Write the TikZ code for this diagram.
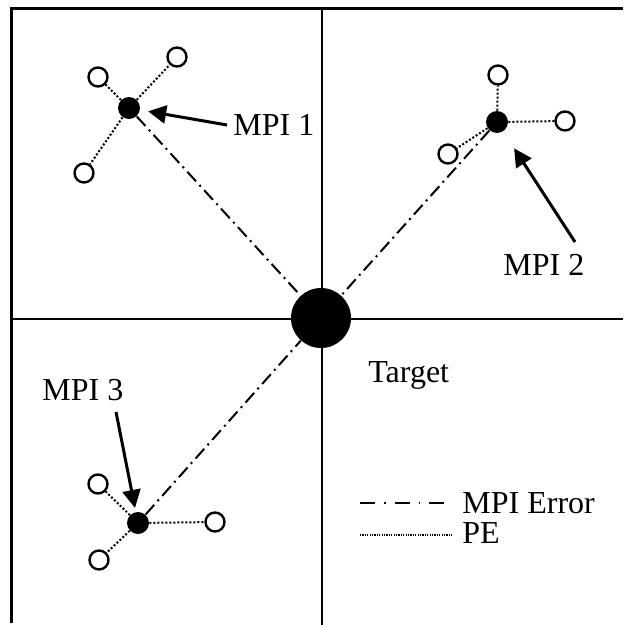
\documentclass[tikz,border=0pt]{standalone}
\usepackage{fontspec}
\setmainfont{Liberation Serif}
\usetikzlibrary{arrows.meta}

\begin{document}
\begin{tikzpicture}[
        %One unit is one pixel, y runs downwards
        x=0.5pt, y=-0.5pt,
        border line/.style={line width=1.5pt},
        grid line/.style={line width=0.7pt},
        mpi/.style={circle, fill=black, inner sep=0pt, minimum size=11pt},
        target dot/.style={circle, fill=black, inner sep=0pt, minimum size=30pt},
        pe/.style={circle, draw=black, fill=white, line width=1.2pt, inner sep=0pt, minimum size=9.5pt},
        error line/.style={line width=1pt, dash pattern=on 6.5pt off 2.5pt on 1pt off 2.5pt},
        pe line/.style={line width=1pt, dash pattern=on 1pt off 1pt},
        key error/.style={line width=0.8pt, dash pattern=on 7.5pt off 4.5pt on 0.8pt off 4.5pt},
        key pe/.style={line width=0.6pt, dash pattern=on 0.6pt off 0.6pt},
        pointer/.style={line width=1.5pt, -{Triangle[length=9pt,width=9pt]}},
        tag/.style={anchor=base west, inner sep=0pt, font=\fontsize{16}{19}\selectfont}
     ]
    \useasboundingbox (0,0) rectangle (623,627);
    % frame and quadrants
    \draw[border line] (11,623) -- (11,8) -- (623,8);
    \draw[grid line] (322,8) -- (322,625);
    \draw[grid line] (11,319) -- (623,319);

    % Target
    \node[target dot] (target) at (321,318) {};
    \node[tag] (ltarget) at (368,382) {Target};

    % MPI points with their PE
    \node[mpi] (m1) at (129,108) {};
    \node[pe] (m1a) at (98,77) {};
    \node[pe] (m1b) at (177,57) {};
    \node[pe] (m1c) at (84,173) {};
    \node[mpi] (m2) at (497,122) {};
    \node[pe] (m2a) at (498,75) {};
    \node[pe] (m2b) at (565,121) {};
    \node[pe] (m2c) at (448,154) {};
    \node[mpi] (m3) at (138,523) {};
    \node[pe] (m3a) at (98,484) {};
    \node[pe] (m3b) at (215,522) {};
    \node[pe] (m3c) at (99,560) {};

    % MPI error
    \foreach \m in {m1,m2,m3}
        \draw[error line] (\m) -- (target);
    % PE
    \foreach \m in {m1,m2,m3}
        \foreach \p in {a,b,c}
            \draw[pe line] (\m) -- (\m\p);

    % labels and pointers
    \node[tag] (l1) at (233,135) {MPI 1};
    \node[tag] (l2) at (503,275) {MPI 2};
    \node[tag] (l3) at (42,400) {MPI 3};
    \coordinate (t1) at (227,125);
    \coordinate (t2) at (575,242);
    \coordinate (t3) at (116,412);
    \draw[pointer, shorten >=4pt] (t1) -- (m1);
    \draw[pointer, shorten >=10pt] (t2) -- (m2);
    \draw[pointer, shorten >=2pt] (t3) -- (m3);

    % key
    \coordinate (e1) at (360,503);
    \coordinate (e2) at (453,503);
    \coordinate (p1) at (360,535);
    \coordinate (p2) at (452,535);
    \draw[key error] (e1) -- (e2);
    \draw[key pe] (p1) -- (p2);
    \node[tag] (lerror) at (462,513) {MPI Error};
    \node[tag] (lpe) at (462,543) {PE};
\end{tikzpicture}
\end{document}
